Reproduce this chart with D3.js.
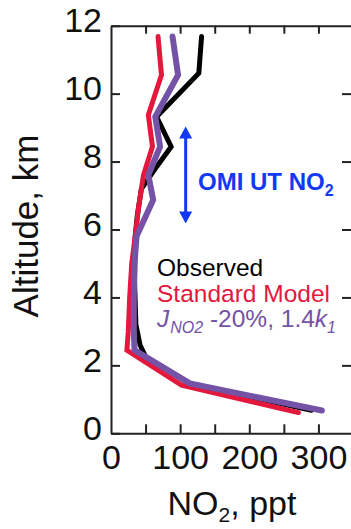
<!DOCTYPE html>
<html>
<head>
<meta charset="utf-8">
<script src="https://cdn.jsdelivr.net/npm/d3@7"></script>
<style>
html,body{margin:0;padding:0;background:#fff;}
svg{display:block;font-family:"Liberation Sans",Arial,sans-serif;}
</style>
</head>
<body>
<svg id="chart" width="351" height="529"></svg>
<script>
// ---- data (NO2 in ppt, altitude in km) ----
const observedNO2 = [131,127,66,87,66,44,38,35,34,36,42,50,75,113,290];
const observedAlt = [11.68,10.6,9.32,8.44,7.85,7.2,6.4,5.8,4.5,3.2,2.6,2.25,1.95,1.47,0.68];
const standardNO2 = [68,73,54,60,47,40,35,30,27,25,23,102,271];
const standardAlt = [11.68,10.55,9.37,8.44,7.6,6.67,5.8,5.0,4.0,3.0,2.45,1.42,0.61];
const tunedNO2 = [89,97,64,71,54,61,37,34,33,33,34,114,305];
const tunedAlt = [11.68,10.55,9.32,8.44,7.6,6.87,5.8,5.0,4.0,3.0,2.45,1.47,0.67];
const xTicks = [0,100,200,300];
const xMinorTicks = [50,100,150,200,250,300];
const yTicks = [0,2,4,6,8,10,12];
const omiRange = [6.18, 9.03];   // km, OMI UT NO2 arrow extent
const omiX = 108;                 // ppt, arrow position

const svg = d3.select("#chart");
const x = d3.scaleLinear().domain([0,350]).range([111,353]);
const y = d3.scaleLinear().domain([0,12]).range([433.3,25.7]);
const axisColor = "#222";

// series
const series = [
  {no2: observedNO2, alt: observedAlt, color:"#000000", w:5},
  {no2: standardNO2, alt: standardAlt, color:"#e4173c", w:5},
  {no2: tunedNO2,    alt: tunedAlt,    color:"#7452a6", w:6}
];
const line = d3.line().x(d=>x(d[0])).y(d=>y(d[1]));
series.forEach(s=>{
  svg.append("path")
    .datum(s.no2.map((v,i)=>[v,s.alt[i]]))
    .attr("d", line)
    .attr("fill","none")
    .attr("stroke", s.color)
    .attr("stroke-width", s.w)
    .attr("stroke-linejoin","miter")
    .attr("stroke-linecap","round");
});

// axes
function styleAxis(g){
  g.selectAll("path.domain").attr("stroke",axisColor).attr("stroke-width",2);
  g.selectAll(".tick line").attr("stroke",axisColor).attr("stroke-width",2);
  g.selectAll(".tick text").attr("fill","#111").attr("font-size",34)
    .attr("font-family","'Liberation Sans',Arial,sans-serif");
}
const gB = svg.append("g").attr("transform",`translate(0,${y(0)})`)
  .call(d3.axisBottom(x).tickValues(xMinorTicks).tickSizeInner(-9).tickSizeOuter(0).tickFormat(""));
styleAxis(gB);
const gBL = svg.append("g").attr("transform",`translate(0,${y(0)})`)
  .call(d3.axisBottom(x).tickValues(xTicks).tickSize(0).tickPadding(12).tickFormat(d3.format("d")));
gBL.select("path.domain").remove();
styleAxis(gBL);

const gT = svg.append("g").attr("transform",`translate(0,${y(12)})`)
  .call(d3.axisTop(x).tickValues(xMinorTicks).tickSizeInner(-8).tickSizeOuter(0).tickFormat(""));
styleAxis(gT);

const gL = svg.append("g").attr("transform",`translate(${x(0)},0)`)
  .call(d3.axisLeft(y).tickValues(yTicks).tickSizeInner(-9).tickSizeOuter(0).tickPadding(9).tickFormat(d3.format("d")));
styleAxis(gL);
gL.selectAll(".tick text").attr("dy","0.18em").attr("x",-9);

const gR = svg.append("g").attr("transform",`translate(${x(350)},0)`)
  .call(d3.axisRight(y).tickValues(yTicks.slice(1,-1)).tickSizeInner(-11).tickSizeOuter(0).tickFormat(""));
styleAxis(gR);

// axis titles
const xt = svg.append("text").attr("x",232).attr("y",515).attr("text-anchor","middle")
  .attr("font-size",34).attr("fill","#111");
xt.append("tspan").text("NO");
xt.append("tspan").attr("font-size",21).attr("dy",7).text("2");
xt.append("tspan").attr("dy",-7).text(", ppt");

svg.append("text").attr("transform","translate(38,226) rotate(-90)")
  .attr("text-anchor","middle").attr("font-size",35).attr("fill","#111")
  .text("Altitude, km");

// OMI arrow
const blue = "#1238f5";
const ax = x(omiX), yTop = y(omiRange[1]), yBot = y(omiRange[0]);
svg.append("line").attr("x1",ax).attr("x2",ax).attr("y1",yTop+8).attr("y2",yBot-8)
  .attr("stroke",blue).attr("stroke-width",3);
svg.append("path").attr("d",`M${ax},${yTop} L${ax-6.5},${yTop+12} L${ax+6.5},${yTop+12} Z`).attr("fill",blue);
svg.append("path").attr("d",`M${ax},${yBot} L${ax-6.5},${yBot-12} L${ax+6.5},${yBot-12} Z`).attr("fill",blue);
const omi = svg.append("text").attr("x",198).attr("y",190).attr("font-size",24)
  .attr("font-weight","bold").attr("fill",blue);
omi.append("tspan").text("OMI UT NO");
omi.append("tspan").attr("font-size",16).attr("dy",6).text("2");

// legend
const lx = 157;
svg.append("text").attr("x",lx).attr("y",276).attr("font-size",24.5).attr("fill","#000").text("Observed");
svg.append("text").attr("x",lx).attr("y",301.5).attr("font-size",24.5).attr("fill","#e4173c").text("Standard Model");
const lj = svg.append("text").attr("x",lx).attr("y",326.5).attr("font-size",24.5).attr("fill","#7452a6");
lj.append("tspan").attr("font-style","italic").text("J");
lj.append("tspan").attr("font-style","italic").attr("font-size",16).attr("dy",6).attr("dx",1).text("NO2");
lj.append("tspan").attr("dy",-6).text(" -20%, 1.4");
lj.append("tspan").attr("font-style","italic").text("k");
lj.append("tspan").attr("font-style","italic").attr("font-size",16).attr("dy",6).text("1");
</script>
</body>
</html>
